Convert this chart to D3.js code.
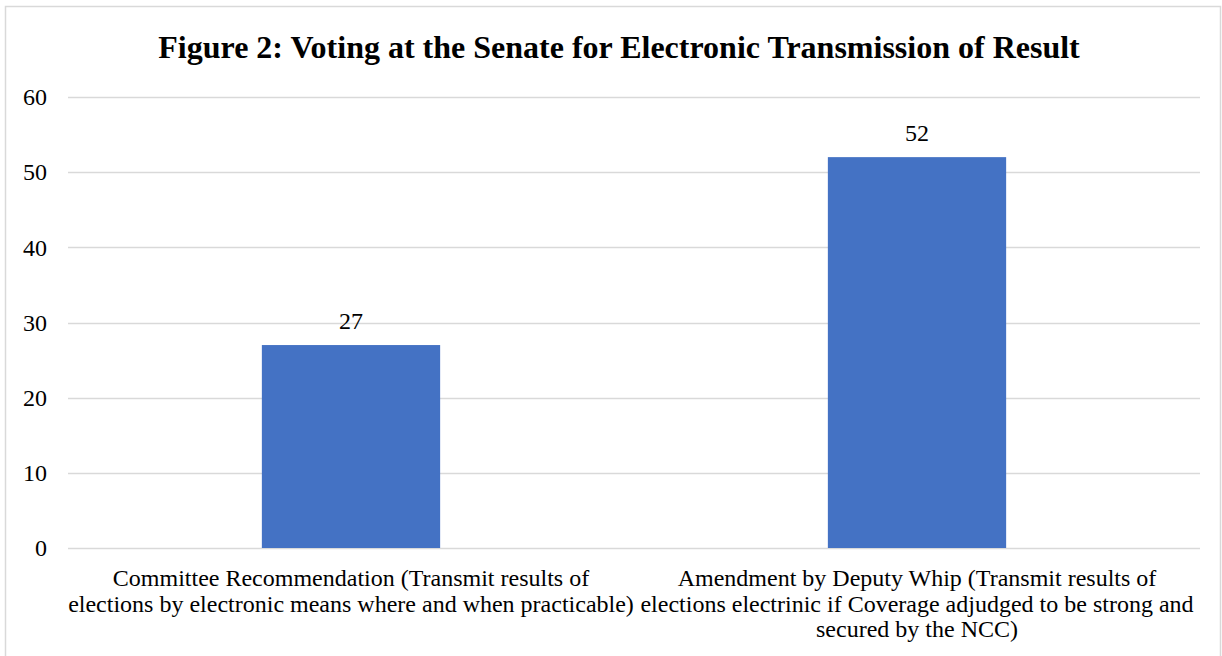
<!DOCTYPE html>
<html>
<head>
<meta charset="utf-8">
<script src="https://cdn.jsdelivr.net/npm/d3@7"></script>
<style>
  html, body { margin: 0; padding: 0; background: #fff; }
  svg { display: block; }
</style>
</head>
<body>
<svg id="chart" width="1222" height="656"></svg>
<script>
// Senate vote counts on the electronic transmission clause
const categories = [
  ["Committee Recommendation (Transmit results of", "elections by electronic means where and when practicable)"],
  ["Amendment by Deputy Whip (Transmit results of", "elections electrinic if Coverage adjudged to be strong and", "secured by the NCC)"]
];
const votes = [27, 52];
const yTicks = [0, 10, 20, 30, 40, 50, 60];
const titleText = "Figure 2: Voting at the Senate for Electronic Transmission of Result";

const SERIF = "'Liberation Serif', 'Times New Roman', Times, serif";
const FS = 24;

const svg = d3.select("#chart");
const W = 1222, H = 656;
const margin = { left: 68, right: 22, top: 97, bottom: 108 };

// chart frame
svg.append("rect")
  .attr("x", 5.5).attr("y", 6.5)
  .attr("width", W - 7).attr("height", H + 10)
  .attr("fill", "#fff").attr("stroke", "#d9d9d9").attr("stroke-width", 1.5);

const x = d3.scaleBand()
  .domain(d3.range(categories.length))
  .range([margin.left, W - margin.right])
  .padding(0);

const y = d3.scaleLinear()
  .domain([0, 60])
  .range([H - margin.bottom, margin.top]);

// gridlines
svg.append("g")
  .selectAll("line")
  .data(yTicks)
  .join("line")
  .attr("x1", margin.left).attr("x2", W - margin.right)
  .attr("y1", d => Math.round(y(d)) + 0.5).attr("y2", d => Math.round(y(d)) + 0.5)
  .attr("stroke", "#d9d9d9").attr("stroke-width", 1.5);

// y-axis labels
const yAxis = d3.axisLeft(y).tickValues(yTicks).tickSize(0).tickPadding(21);
const gy = svg.append("g").attr("transform", `translate(${margin.left},0)`).call(yAxis);
gy.select(".domain").remove();
gy.attr("font-family", null).attr("font-size", null);
gy.selectAll("text")
  .style("font-family", SERIF)
  .style("font-size", FS + "px")
  .style("fill", "#000");

// bars
const barFrac = 0.315;
const barW = x.bandwidth() * barFrac;
svg.append("g")
  .selectAll("rect")
  .data(votes)
  .join("rect")
  .attr("x", (d, i) => x(i) + (x.bandwidth() - barW) / 2)
  .attr("y", d => y(d))
  .attr("width", barW)
  .attr("height", d => y(0) - y(d))
  .attr("fill", "#4472c4");

// value labels
svg.append("g")
  .selectAll("text")
  .data(votes)
  .join("text")
  .attr("x", (d, i) => x(i) + x.bandwidth() / 2)
  .attr("y", d => y(d) - 16)
  .attr("text-anchor", "middle")
  .style("font-family", SERIF)
  .style("font-size", FS + "px")
  .style("fill", "#000")
  .text(d => d);

// category labels
const cat = svg.append("g")
  .selectAll("text")
  .data(categories)
  .join("text")
  .attr("text-anchor", "middle")
  .style("font-family", SERIF)
  .style("font-size", FS + "px")
  .style("fill", "#000")
  .attr("x", (d, i) => x(i) + x.bandwidth() / 2)
  .attr("y", H - margin.bottom + 38);
cat.selectAll("tspan")
  .data(d => d)
  .join("tspan")
  .attr("x", function () { return d3.select(this.parentNode).attr("x"); })
  .attr("dy", (d, i) => i === 0 ? 0 : 25.5)
  .text(d => d);

// title
svg.append("text")
  .attr("x", 619).attr("y", 58)
  .attr("text-anchor", "middle")
  .style("font-family", SERIF)
  .style("font-size", "32px")
  .style("font-weight", "bold")
  .style("fill", "#000")
  .text(titleText);
</script>
</body>
</html>
